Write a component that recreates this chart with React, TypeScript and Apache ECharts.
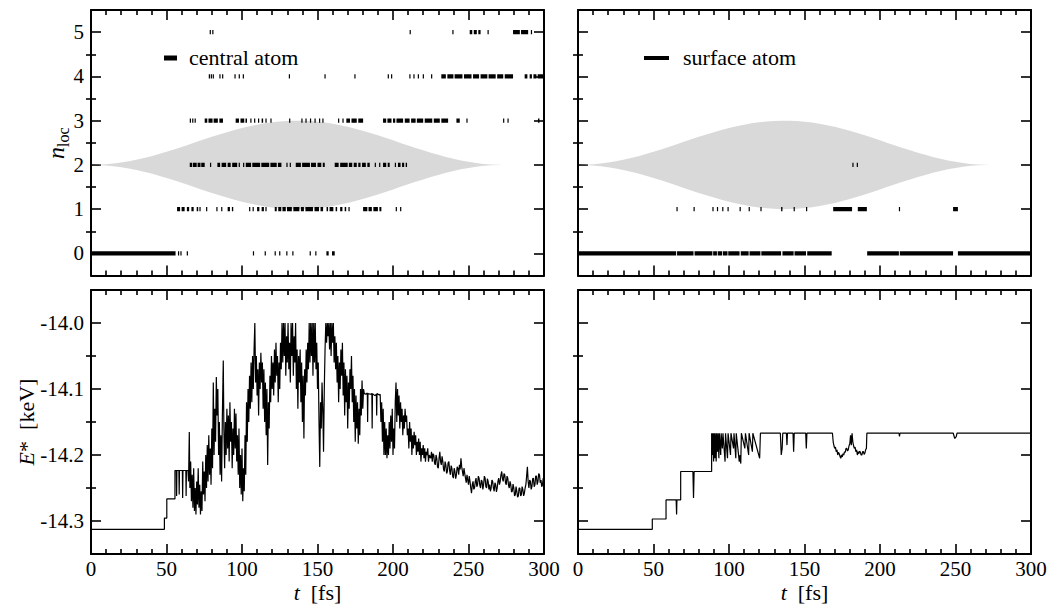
import React, { useEffect, useRef } from 'react';
import * as echarts from 'echarts';

const SERIF = 'Liberation Serif';

// ---- axes ----
const timeMin = 0;
const timeMax = 300;
const timeStep = 50;
const nlocTicks = [0, 1, 2, 3, 4, 5];
const nlocMinorTicks = [0.5, 1.5, 2.5, 3.5, 4.5];
const energyTicks = [-14.3, -14.2, -14.1, -14.0];
const energyMinorTicks = [-14.25, -14.15, -14.05];

// ---- laser pulse envelope, drawn as a band around n_loc = 2 ----
const envelopeCenter = 2;
const envelopeTime = [0, 5, 10, 15, 20, 25, 30, 35, 40, 45, 50, 55, 60, 65, 70, 75, 80, 85, 90, 95, 100, 105, 110, 115, 120, 125, 130, 135, 140, 145, 150, 155, 160, 165, 170, 175, 180, 185, 190, 195, 200, 205, 210, 215, 220, 225, 230, 235, 240, 245, 250, 255, 260, 265, 270, 273];
const envelopeHalfWidth = [0, 0.003, 0.013, 0.03, 0.052, 0.081, 0.115, 0.154, 0.197, 0.245, 0.297, 0.35, 0.405, 0.463, 0.52, 0.578, 0.633, 0.688, 0.74, 0.789, 0.833, 0.874, 0.909, 0.94, 0.963, 0.983, 0.994, 1.0, 0.998, 0.99, 0.976, 0.955, 0.929, 0.896, 0.86, 0.816, 0.771, 0.719, 0.668, 0.611, 0.555, 0.496, 0.44, 0.383, 0.328, 0.275, 0.228, 0.179, 0.137, 0.101, 0.07, 0.042, 0.022, 0.008, 0.001, 0];

// ---- n_loc of the central atom: [t start, t end] intervals per level ----
const centralLevel0 = [[0, 56], [57.6, 58.3], [59.2, 59.8], [63.4, 64.2], [107.2, 107.6], [115, 115.4], [121.6, 122], [124.6, 125], [129.3, 129.8], [133.3, 133.8], [144.8, 145.6], [148.5, 149.2], [155.9, 157.4], [159.6, 161.4]];
const centralLevel1 = [[57, 59], [60, 62], [63.5, 65], [66.5, 68], [70, 71], [71.8, 72.3], [76.2, 76.6], [83, 83.4], [86.2, 86.6], [90.5, 92], [93.3, 94.2], [104.7, 105.1], [107, 107.4], [110, 111.5], [113, 114.5], [115.5, 116.2], [121.7, 123], [124, 126], [126.8, 129], [129.8, 133], [134, 138], [139, 141], [142, 147], [148, 151], [152, 153.7], [156, 157], [158, 160.5], [162, 163], [165, 166.5], [168, 169], [170.5, 171.3], [180.2, 183], [183.8, 186], [187, 190], [191, 192.3], [201.8, 202.2], [204.7, 205.1]];
const centralLevel2 = [[65.4, 67], [67.5, 70], [70.6, 72.5], [73, 75.3], [78.8, 79.2], [83.7, 85.5], [86.5, 89.5], [90.5, 92.5], [93.5, 96.8], [97.8, 98.5], [100.7, 101.1], [102.5, 106], [106.8, 112], [112.8, 118], [118.8, 123], [123.8, 126.1], [129.4, 129.8], [131.6, 132], [135.6, 139], [139.8, 145], [145.7, 149], [150, 152.5], [153.5, 154.8], [161.4, 164], [165, 170], [170.8, 173], [174, 176], [177, 178.5], [179.5, 182], [183, 184.6], [187.9, 188.3], [190.8, 191.2], [193.4, 195.5], [196.5, 197.8], [201.2, 201.6], [203.3, 205], [206, 207.4], [208.4, 209.3]];
const centralLevel3 = [[65.4, 66], [67, 67.6], [68.6, 69.3], [75.3, 77], [77.8, 80.5], [81.2, 84], [85, 87.4], [95.8, 98], [99, 101.5], [102.3, 103.3], [105.5, 106], [108, 108.4], [110.6, 111], [113, 114], [115.5, 116], [118.8, 119.5], [131.2, 131.6], [139.3, 139.8], [142, 142.5], [145, 145.6], [148, 148.6], [151, 151.5], [153.2, 153.7], [163.6, 164], [166.5, 166.9], [169.1, 171.5], [172.5, 176], [177, 180.2], [193.4, 195.5], [196.3, 199], [200, 201.5], [202.3, 206.7], [207.8, 211], [212, 215], [215.8, 220], [221, 226], [227, 231], [232, 236.5], [242, 244.2], [248.6, 249], [272.9, 273.3], [275.8, 276.2], [296, 297]];
const centralLevel4 = [[78, 78.5], [79.3, 79.8], [80.6, 81.1], [85, 85.5], [86.8, 87.3], [95, 95.5], [97.8, 98.3], [100.5, 101], [131, 131.5], [154.6, 155], [174.4, 174.8], [196.5, 197], [198.7, 199.2], [210.8, 211.5], [213.5, 214.2], [216.4, 217], [219.7, 220.4], [225.2, 225.7], [232, 235], [236, 240], [240.8, 246], [247, 252], [253, 257], [258, 262.5], [263.3, 268], [269, 273], [274, 279.5], [287.2, 289], [290.5, 292], [293, 295], [295.8, 300]];
const centralLevel5 = [[78.6, 79], [80.3, 80.7], [211, 211.4], [239.3, 239.7], [250.8, 252.5], [253.5, 255.5], [256.5, 258], [262.6, 263.2], [279.5, 284], [284.8, 289.5], [291.3, 292]];

// ---- n_loc of the surface atom ----
const surfaceLevel0 = [[0, 65], [65.6, 76.5], [77.2, 89], [89.5, 92], [92.5, 95.5], [96, 99], [99.5, 107], [107.8, 113], [113.6, 120.8], [121.4, 134.5], [135.4, 142.8], [143.4, 151], [151.8, 168], [191.5, 212.5], [213.1, 248.4], [251.6, 300]];
const surfaceLevel1 = [[65.2, 65.6], [76.5, 77.2], [89, 89.5], [92, 92.5], [95.5, 96], [99, 99.5], [107, 107.8], [113, 113.6], [120.8, 121.4], [134.5, 135.4], [142.8, 143.4], [151, 151.8], [169, 181.5], [185.3, 191.3], [212.5, 213.1], [248.4, 251.6]];
const surfaceLevel2 = [[181.7, 182.1], [184.6, 185]];

// ---- excitation energy E* [keV] of the central atom: [t, E] ----
const centralEnergyRise = [[0, -14.3126], [48.6, -14.3126], [48.6, -14.2955], [50.2, -14.2955], [50.2, -14.2665], [55.6, -14.2665], [55.6, -14.2235], [56.5, -14.2235], [56.7, -14.262], [56.9, -14.2235], [58.2, -14.2235], [58.4, -14.26], [58.6, -14.2235], [60.5, -14.2235], [60.7, -14.265], [60.9, -14.2235], [62.8, -14.2235], [63, -14.262], [63.2, -14.2235], [64.2, -14.2235]];
const centralEnergyPeak = [
  [64.6, -14.24], [65.1, -14.165], [65.5, -14.25], [66, -14.21], [66.5, -14.27], [67, -14.23], [67.5, -14.28], [68, -14.22], [68.5, -14.285], [69, -14.25], [69.5, -14.29], [70, -14.24], [70.5, -14.275], [71, -14.22], [71.5, -14.28], [72, -14.245], [72.5, -14.29], [73, -14.255], [73.5, -14.285], [74, -14.21], [74.5, -14.26], [75, -14.225], [75.5, -14.27], [76, -14.2], [76.5, -14.25], [77, -14.185],
  [77.5, -14.24], [78, -14.17], [78.5, -14.23], [79, -14.19], [79.5, -14.245], [80, -14.16], [80.5, -14.22], [81, -14.09], [81.5, -14.2], [82, -14.13], [82.5, -14.18], [83, -14.082], [83.5, -14.14], [84, -14.1], [84.5, -14.2], [85, -14.15], [85.5, -14.23], [86, -14.17], [86.5, -14.24], [87, -14.14], [87.6, -14.057], [88, -14.16], [88.5, -14.22], [89, -14.15], [89.5, -14.2],
  [90, -14.13], [90.5, -14.19], [91, -14.14], [91.5, -14.21], [92, -14.12], [92.5, -14.18], [93, -14.15], [93.5, -14.22], [94, -14.16], [94.5, -14.2], [95, -14.13], [95.5, -14.19], [96, -14.137], [96.5, -14.21], [97, -14.17], [97.5, -14.23], [98, -14.16], [98.5, -14.25], [99, -14.2], [99.5, -14.26], [100, -14.19], [100.5, -14.27], [101, -14.22], [101.5, -14.255], [102, -14.17], [102.5, -14.23], [103, -14.12], [103.5, -14.18], [104, -14.1], [104.5, -14.15],
  [105, -14.08], [105.5, -14.13], [106, -14.06], [106.5, -14.12], [107, -14.05], [107.5, -14.1], [108, -14.04], [108.5, -14.0], [109, -14.09], [109.5, -14.05], [110, -14.11], [110.5, -14.07], [111, -14.14], [111.5, -14.06], [112, -14.1], [112.5, -14.045], [113, -14.09], [113.5, -14.06], [114, -14.13], [114.5, -14.07], [115, -14.15], [115.5, -14.09], [116, -14.17], [116.5, -14.1], [117, -14.215], [117.5, -14.12], [118, -14.16], [118.5, -14.08], [119, -14.12], [119.5, -14.05], [120, -14.1],
  [120.5, -14.06], [121, -14.11], [121.5, -14.04], [122, -14.09], [122.5, -14.03], [123, -14.08], [123.5, -14.05], [124, -14.12], [124.5, -14.06], [125, -14.1], [125.5, -14.03], [126, -14.07], [126.5, -14.0], [127, -14.06], [127.5, -14.0], [128, -14.05], [128.5, -14.0], [129, -14.08], [129.5, -14.02], [130, -14.06], [130.5, -14.0], [131, -14.07], [131.5, -14.03], [132, -14.09], [132.5, -14.0], [133, -14.05], [133.5, -14.0], [134, -14.08], [134.5, -14.02], [135, -14.06], [135.5, -14.0], [136, -14.1], [136.5, -14.04], [137, -14.13], [137.5, -14.05], [138, -14.09], [138.5, -14.04], [139, -14.12], [139.5, -14.06], [140, -14.15], [140.5, -14.08], [141, -14.175], [141.5, -14.07], [142, -14.11], [142.5, -14.04], [143, -14.09], [143.5, -14.03], [144, -14.07], [144.5, -14.0], [145, -14.06], [145.5, -14.0], [146, -14.05], [146.5, -14.0], [147, -14.08], [147.5, -14.0], [148, -14.06], [148.5, -14.0], [149, -14.07], [149.5, -14.03], [150, -14.1], [150.5, -14.06], [151, -14.15], [151.5, -14.218], [152, -14.12], [152.5, -14.16], [153, -14.09], [153.5, -14.13], [154, -14.195], [154.5, -14.1],
  [155, -14.04], [155.5, -14.0], [156, -14.03], [156.5, -14.0], [157, -14.02], [157.5, -14.0], [158, -14.04], [158.5, -14.0], [159, -14.05], [159.5, -14.0], [160, -14.03], [160.5, -14.0], [161, -14.06], [161.5, -14.02], [162, -14.07],
  [162.5, -14.03], [163, -14.09], [163.5, -14.05], [164, -14.12], [164.5, -14.06], [165, -14.1], [165.5, -14.04], [166, -14.08], [166.5, -14.03], [167, -14.11], [167.5, -14.06], [168, -14.14], [168.5, -14.07], [169, -14.12], [169.5, -14.08], [170, -14.16], [170.5, -14.09], [171, -14.13], [171.5, -14.07], [172, -14.1], [172.5, -14.05], [173, -14.12], [173.5, -14.08], [174, -14.15], [174.5, -14.1], [175, -14.18], [175.5, -14.11], [176, -14.16],
  [176.5, -14.12], [177, -14.183], [177.5, -14.13], [178, -14.17], [178.5, -14.1], [179, -14.14], [179.5, -14.087], [180, -14.13], [180.5, -14.1], [181, -14.107], [182, -14.108], [183, -14.106], [183.2, -14.15], [183.4, -14.107], [185, -14.108], [186, -14.107], [186.2, -14.16], [186.4, -14.107], [188, -14.11], [189, -14.108], [189.2, -14.14], [189.4, -14.107], [191, -14.109], [191.5, -14.108], [192, -14.15], [192.5, -14.12], [193, -14.18], [193.5, -14.13], [194, -14.2], [194.5, -14.15], [195, -14.2], [195.5, -14.16], [196, -14.205], [196.5, -14.17], [197, -14.2], [197.5, -14.15], [198, -14.19], [198.5, -14.14], [199, -14.18], [199.5, -14.13], [200, -14.2], [200.5, -14.16], [201, -14.19], [201.5, -14.12], [202, -14.09], [202.5, -14.15], [203, -14.1], [203.5, -14.14], [204, -14.11], [204.5, -14.16], [205, -14.12], [205.5, -14.15], [206, -14.13], [206.5, -14.17], [207, -14.14], [207.5, -14.16], [208, -14.13], [208.5, -14.15], [209, -14.14], [209.5, -14.17], [210, -14.16],
  [210.5, -14.19], [211, -14.15], [211.5, -14.18], [212, -14.16], [212.5, -14.2], [213, -14.17], [213.5, -14.19], [214, -14.165], [214.5, -14.185], [215, -14.17], [215.5, -14.2], [216, -14.18], [216.5, -14.195], [217, -14.175], [217.5, -14.2], [218, -14.18], [218.5, -14.21], [219, -14.19], [219.5, -14.2], [220, -14.185], [220.5, -14.205], [221, -14.19], [221.5, -14.21], [222, -14.195], [222.5, -14.2], [223, -14.19], [223.5, -14.21], [224, -14.2], [225, -14.205]
];
const centralEnergyTail = [[225.5, -14.195], [226, -14.21], [226.5, -14.198], [227, -14.2], [227.5, -14.212], [228, -14.215], [228.5, -14.2], [229, -14.205], [229.5, -14.218], [230, -14.22], [230.5, -14.205], [231, -14.195], [231.5, -14.21], [232, -14.215], [232.5, -14.202], [233, -14.21], [233.5, -14.222], [234, -14.225], [234.5, -14.21], [235, -14.215], [235.5, -14.228], [236, -14.225], [236.5, -14.212], [237, -14.21], [237.5, -14.224], [238, -14.23], [238.5, -14.216], [239, -14.22], [239.5, -14.232], [240, -14.235], [240.5, -14.22], [241, -14.225], [241.5, -14.236], [242, -14.23], [242.5, -14.218], [243, -14.22], [243.5, -14.23], [244, -14.215], [244.5, -14.222], [245, -14.205], [245.5, -14.218], [246, -14.225], [246.5, -14.232], [247, -14.22], [247.5, -14.228], [248, -14.235], [248.5, -14.242], [249, -14.23], [249.5, -14.238], [250, -14.245], [250.5, -14.232], [251, -14.24], [251.5, -14.25], [252, -14.258], [252.5, -14.245], [253, -14.24], [253.5, -14.252], [254, -14.25], [254.5, -14.24], [255, -14.235], [255.5, -14.248], [256, -14.245], [256.5, -14.232], [257, -14.235], [257.5, -14.246], [258, -14.25], [258.5, -14.238], [259, -14.24], [259.5, -14.252], [260, -14.245], [260.5, -14.232], [261, -14.235], [261.5, -14.248], [262, -14.25], [262.5, -14.236], [263, -14.24], [263.5, -14.252], [264, -14.245], [264.5, -14.255], [265, -14.25], [265.5, -14.238], [266, -14.24], [266.5, -14.25], [267, -14.255], [267.5, -14.242], [268, -14.245], [268.5, -14.256], [269, -14.25], [269.5, -14.24], [270, -14.235], [270.5, -14.245], [271, -14.24], [271.5, -14.23], [272, -14.225], [272.5, -14.236], [273, -14.24], [273.5, -14.228], [274, -14.23], [274.5, -14.242], [275, -14.245], [275.5, -14.232], [276, -14.235], [276.5, -14.246], [277, -14.25], [277.5, -14.24], [278, -14.245], [278.5, -14.256], [279, -14.255], [279.5, -14.244], [280, -14.25], [280.5, -14.262], [281, -14.26], [281.5, -14.248], [282, -14.255], [282.5, -14.264], [283, -14.262], [283.5, -14.25], [284, -14.25], [284.5, -14.262], [285, -14.26], [285.5, -14.248], [286, -14.252], [286.5, -14.262], [287, -14.258], [287.5, -14.25], [288, -14.245], [288.5, -14.232], [289, -14.218], [289.5, -14.24], [290, -14.25], [290.5, -14.238], [291, -14.24], [291.5, -14.252], [292, -14.248], [292.5, -14.236], [293, -14.235], [293.5, -14.248], [294, -14.245], [294.5, -14.232], [295, -14.232], [295.5, -14.245], [296, -14.24], [296.5, -14.228], [297, -14.23], [297.5, -14.242], [298, -14.238], [298.5, -14.248], [299, -14.245], [299.5, -14.235], [300, -14.24]];

// ---- excitation energy E* [keV] of the surface atom ----
const surfaceEnergyRise = [[0, -14.3126], [49.2, -14.3126], [49.2, -14.297], [58.3, -14.297], [58.3, -14.268], [65, -14.268], [65.3, -14.29], [65.5, -14.268], [68, -14.268], [68, -14.225], [76.1, -14.225], [76.5, -14.265], [76.9, -14.225], [88.5, -14.225], [88.5, -14.167]];
const surfaceEnergyPlateau = [[89, -14.2], [89.3, -14.167], [89.8, -14.21], [90.1, -14.167], [90.6, -14.205], [90.9, -14.167], [91.5, -14.21], [91.8, -14.167], [92.4, -14.195], [92.7, -14.167], [93.3, -14.205], [93.6, -14.167], [94.5, -14.2], [94.8, -14.167], [95.6, -14.19], [96, -14.167], [97.4, -14.21], [97.7, -14.167], [99, -14.205], [99.4, -14.167], [101, -14.2], [101.3, -14.167], [103, -14.19], [103.3, -14.167], [104.5, -14.205], [104.8, -14.167], [106.8, -14.21], [107.3, -14.2], [107.8, -14.213], [108.2, -14.167], [110.5, -14.19], [110.9, -14.167], [113, -14.2], [113.3, -14.167], [115.5, -14.195], [115.8, -14.167], [120.3, -14.205], [120.8, -14.167], [134, -14.167], [134.6, -14.2], [135.2, -14.19], [135.6, -14.167], [138, -14.167], [138.4, -14.185], [138.7, -14.167], [142.4, -14.167], [142.8, -14.195], [143.2, -14.167], [150.8, -14.167], [151.2, -14.19], [151.6, -14.167], [168.5, -14.167],
  [169, -14.18], [169.5, -14.186], [170, -14.19], [170.5, -14.188], [171, -14.195], [171.5, -14.192], [172, -14.2], [172.5, -14.196], [173, -14.198], [173.5, -14.202], [174, -14.205], [174.5, -14.2], [175, -14.203], [175.5, -14.198], [176, -14.2], [176.5, -14.195], [177, -14.196], [177.5, -14.19], [178, -14.19], [178.5, -14.194], [179, -14.192], [179.5, -14.186], [180, -14.183], [180.5, -14.17], [181, -14.185], [181.5, -14.167], [182, -14.18], [182.5, -14.186], [183, -14.19], [183.5, -14.188], [184, -14.195], [184.5, -14.192], [185, -14.2], [185.5, -14.195], [186, -14.198], [186.5, -14.194], [187, -14.196], [187.5, -14.2], [188, -14.2], [188.5, -14.195], [189, -14.195], [189.5, -14.199], [190, -14.197], [190.5, -14.192], [191, -14.19], [191.3, -14.167],
  [212.6, -14.167], [212.9, -14.172], [213.2, -14.167], [248.5, -14.167], [249.5, -14.175], [250.5, -14.172], [251, -14.167], [300, -14.167]];

type Interval = number[];

const toMarks = (levels: Interval[][]) =>
  levels.flatMap((list, level) => list.map(([s, e]) => [s, e, level]));

const centralMarks = toMarks([centralLevel0, centralLevel1, centralLevel2, centralLevel3, centralLevel4, centralLevel5]);
const surfaceMarks = toMarks([surfaceLevel0, surfaceLevel1, surfaceLevel2]);
const centralEnergy = [...centralEnergyRise, ...centralEnergyPeak, ...centralEnergyTail];
const surfaceEnergy = [...surfaceEnergyRise, ...surfaceEnergyPlateau];

const tickLine = { color: '#000', width: 1.6 };
const frameLine = { show: true, onZero: false, lineStyle: { color: '#000', width: 2 } };
const tickFont = { fontFamily: SERIF, fontSize: 21, color: '#000' };

function timeAxes(grid: number, labels: boolean) {
  const base = {
    type: 'value', gridIndex: grid, min: timeMin, max: timeMax, interval: timeStep,
    splitLine: { show: false }, minorSplitLine: { show: false },
    axisLine: frameLine,
    axisTick: { inside: true, length: 10, lineStyle: tickLine },
    minorTick: { show: true, splitNumber: 5, length: 5, lineStyle: tickLine },
  };
  return [
    { ...base, position: 'bottom', axisLabel: { show: labels, margin: 4, ...tickFont } },
    { ...base, position: 'top', axisLabel: { show: false } },
  ];
}

function valueAxes(grid: number, min: number, max: number, major: number[], minor: number[], labels: boolean, digits: number) {
  const out: any[] = [];
  for (const pos of ['left', 'right']) {
    out.push({
      type: 'value', gridIndex: grid, min, max, position: pos,
      splitLine: { show: false }, axisLine: frameLine,
      axisTick: { inside: true, length: 10, customValues: major, lineStyle: tickLine },
      axisLabel: {
        show: labels && pos === 'left', customValues: major, margin: 7,
        formatter: (v: number) => v.toFixed(digits), ...tickFont,
      },
    });
    out.push({
      type: 'value', gridIndex: grid, min, max, position: pos,
      splitLine: { show: false }, axisLine: { show: false },
      axisTick: { inside: true, length: 5, customValues: minor, lineStyle: tickLine },
      axisLabel: { show: false },
    });
  }
  return out;
}

const renderMark = (_params: any, api: any) => {
  const level = api.value(2);
  const a = api.coord([api.value(0), level]);
  const b = api.coord([api.value(1), level]);
  const w = Math.max(b[0] - a[0], 1.2);
  return { type: 'rect', shape: { x: a[0], y: a[1] - 2.2, width: w, height: 4.4 }, style: { fill: '#000' } };
};

function envelopeSeries(xIdx: number, yIdx: number) {
  const common = {
    type: 'line', xAxisIndex: xIdx, yAxisIndex: yIdx, showSymbol: false, symbol: 'none',
    lineStyle: { width: 0, opacity: 0 }, silent: true, z: 1,
  };
  return [
    { ...common, name: 'pulse upper', data: envelopeTime.map((t, i) => [t, envelopeCenter + envelopeHalfWidth[i]]), areaStyle: { color: '#d9d9d9', opacity: 1, origin: envelopeCenter } },
    { ...common, name: 'pulse lower', data: envelopeTime.map((t, i) => [t, envelopeCenter - envelopeHalfWidth[i]]), areaStyle: { color: '#d9d9d9', opacity: 1, origin: envelopeCenter } },
  ];
}

function markSeries(name: string, data: number[][], xIdx: number, yIdx: number) {
  return { type: 'custom', name, xAxisIndex: xIdx, yAxisIndex: yIdx, data, renderItem: renderMark, encode: { x: [0, 1], y: 2 }, clip: true, z: 3, silent: true };
}

function energySeries(name: string, data: number[][], xIdx: number, yIdx: number) {
  return { type: 'line', name, xAxisIndex: xIdx, yAxisIndex: yIdx, data, showSymbol: false, symbol: 'none', lineStyle: { color: '#000', width: 1.2 }, clip: true, silent: true, z: 3 };
}

const leftX = 91;
const rightX = 578;
const panelW = 453;

const axisTitle = (text: string) => ({
  text, align: 'center', verticalAlign: 'middle',
  rich: {
    i: { fontFamily: SERIF, fontStyle: 'italic', fontSize: 22, fill: '#000' },
    n: { fontFamily: SERIF, fontSize: 22, fill: '#000' },
  },
});

export default function App() {
  const ref = useRef<HTMLDivElement>(null);

  useEffect(() => {
    if (!ref.current) return;
    const chart = echarts.init(ref.current, null, { renderer: 'svg' });
    const option: any = {
      animation: false,
      backgroundColor: '#fff',
      grid: [
        { left: leftX, top: 10, width: panelW, height: 265.5 },
        { left: rightX, top: 10, width: panelW, height: 265.5 },
        { left: leftX, top: 290, width: panelW, height: 264 },
        { left: rightX, top: 290, width: panelW, height: 264 },
      ],
      xAxis: [...timeAxes(0, false), ...timeAxes(1, false), ...timeAxes(2, true), ...timeAxes(3, true)],
      yAxis: [
        ...valueAxes(0, -0.5, 5.5, nlocTicks, nlocMinorTicks, true, 0),
        ...valueAxes(1, -0.5, 5.5, nlocTicks, nlocMinorTicks, false, 0),
        ...valueAxes(2, -14.35, -13.95, energyTicks, energyMinorTicks, true, 1),
        ...valueAxes(3, -14.35, -13.95, energyTicks, energyMinorTicks, false, 1),
      ],
      series: [
        ...envelopeSeries(0, 0),
        ...envelopeSeries(2, 4),
        markSeries('central atom', centralMarks, 0, 0),
        markSeries('surface atom', surfaceMarks, 2, 4),
        energySeries('central atom E*', centralEnergy, 4, 8),
        energySeries('surface atom E*', surfaceEnergy, 6, 12),
      ],
      graphic: [
        { type: 'rect', shape: { x: 164, y: 55.5, width: 13, height: 5 }, style: { fill: '#000' } },
        { type: 'text', x: 189, y: 57.5, style: { text: 'central atom', fontFamily: SERIF, fontSize: 22, fill: '#000', align: 'left', verticalAlign: 'middle' } },
        { type: 'rect', shape: { x: 644, y: 56, width: 25, height: 4 }, style: { fill: '#000' } },
        { type: 'text', x: 683, y: 57.5, style: { text: 'surface atom', fontFamily: SERIF, fontSize: 22, fill: '#000', align: 'left', verticalAlign: 'middle' } },
        {
          type: 'group', x: 56, y: 142, rotation: Math.PI / 2,
          children: [
            { type: 'text', x: -17, y: 0, style: { text: 'n', fontFamily: SERIF, fontStyle: 'italic', fontSize: 24, fill: '#000', align: 'left', verticalAlign: 'middle' } },
            { type: 'text', x: -5, y: 7, style: { text: 'loc', fontFamily: SERIF, fontSize: 16, fill: '#000', align: 'left', verticalAlign: 'middle' } },
          ],
        },
        { type: 'text', x: 26, y: 422, rotation: Math.PI / 2, style: axisTitle('{i|E}{n|*  [keV]}') },
        ...[leftX + panelW / 2, rightX + panelW / 2].map((cx) => ({
          type: 'text', x: cx, y: 592, style: axisTitle('{i|t}{n|  [fs]}'),
        })),
      ],
    };
    chart.setOption(option);
    return () => chart.dispose();
  }, []);

  return <div ref={ref} style={{ position: 'absolute', left: 0, top: 0, width: 1057, height: 608, background: '#fff' }} />;
}
